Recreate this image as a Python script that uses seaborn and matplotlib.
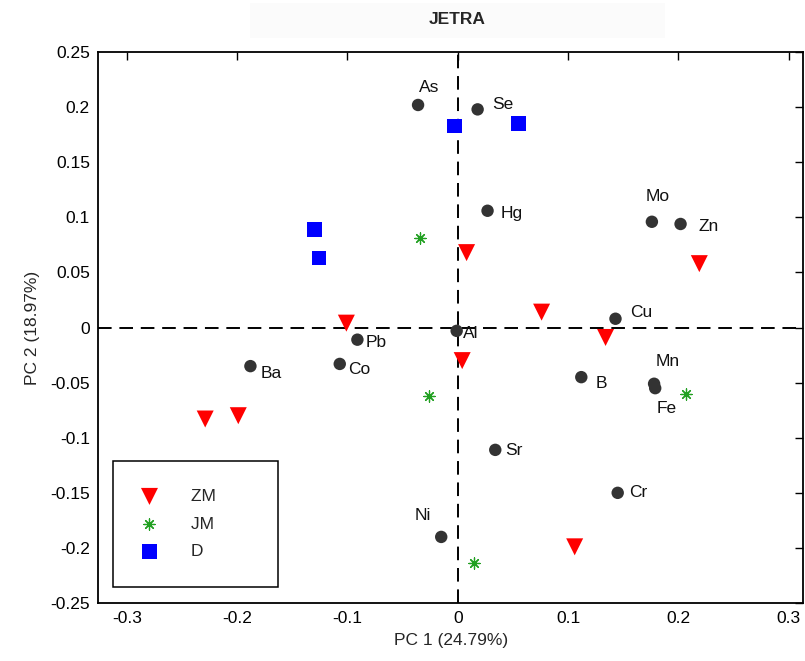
import matplotlib
matplotlib.use("Agg")
import matplotlib.pyplot as plt
import seaborn as sns
import pandas as pd
from matplotlib.patches import Rectangle

# ---- data ----
elements = ["As", "Se", "Hg", "Mo", "Zn", "Cu", "Al", "Pb", "Ba", "Co", "B", "Mn", "Fe", "Sr", "Cr", "Ni"]
elem_pc1 = [-0.036, 0.018, 0.027, 0.176, 0.202, 0.143, -0.001, -0.091, -0.188, -0.107, 0.112, 0.178, 0.179, 0.034, 0.145, -0.015]
elem_pc2 = [0.202, 0.198, 0.106, 0.096, 0.094, 0.008, -0.003, -0.011, -0.035, -0.033, -0.045, -0.051, -0.055, -0.111, -0.150, -0.190]
# label offsets in pixels (dx, dy)
label_dx = [1, 15, 13, -6, 18, 15, 6, 8, 10, 8, 14, 2, 1, 10, 11, -27]
label_dy = [17, 5, -3, 25, -3, 6, -3, -3, -7, -6, -6, 22, -20, -1, 0, 21]

zm_pc1 = [0.008, 0.219, 0.076, -0.101, 0.134, 0.004, -0.229, -0.199, 0.106]
zm_pc2 = [0.068, 0.058, 0.014, 0.004, -0.009, -0.030, -0.083, -0.080, -0.199]

jm_pc1 = [-0.034, -0.026, 0.207, 0.015]
jm_pc2 = [0.081, -0.062, -0.060, -0.214]

d_pc1 = [-0.003, 0.055, -0.130, -0.126]
d_pc2 = [0.183, 0.185, 0.089, 0.063]

xticks = [-0.3, -0.2, -0.1, 0.0, 0.1, 0.2, 0.3]
xticklabels = ["-0.3", "-0.2", "-0.1", "0", "0.1", "0.2", "0.3"]
yticks = [-0.25, -0.2, -0.15, -0.1, -0.05, 0.0, 0.05, 0.1, 0.15, 0.2, 0.25]
yticklabels = ["-0.25", "-0.2", "-0.15", "-0.1", "-0.05", "0", "0.05", "0.1", "0.15", "0.2", "0.25"]

title = "JETRA"
xlabel = "PC 1 (24.79%)"
ylabel = "PC 2 (18.97%)"

# ---- style ----
sns.set_theme(style="white")
plt.rcParams["font.family"] = ["Liberation Sans", "DejaVu Sans"]
FS = 12.5

fig = plt.figure(figsize=(8.05, 6.61), dpi=100)
ax = fig.add_axes([0.122, 0.0877, 0.8755, 0.8335])

# faint title background
fig.patches.append(Rectangle((250 / 805, 1 - 38 / 661), 415 / 805, 35 / 661,
                             transform=fig.transFigure, facecolor="#fbfbfb",
                             edgecolor="none", zorder=0))

ax.axhline(0, color="black", lw=1.4, ls=(0, (7, 4)), zorder=1)
ax.axvline(0, color="black", lw=1.4, ls=(0, (7, 4)), zorder=1)

el_df = pd.DataFrame({"pc1": elem_pc1, "pc2": elem_pc2, "name": elements})
sns.scatterplot(data=el_df, x="pc1", y="pc2", ax=ax, color="#333333", s=80,
                marker="o", edgecolor="none", zorder=3, legend=False)

zm_df = pd.DataFrame({"pc1": zm_pc1, "pc2": zm_pc2})
jm_df = pd.DataFrame({"pc1": jm_pc1, "pc2": jm_pc2})
d_df = pd.DataFrame({"pc1": d_pc1, "pc2": d_pc2})
sns.scatterplot(data=zm_df, x="pc1", y="pc2", ax=ax, color="#ff0000", s=150,
                marker="v", edgecolor="none", zorder=4, label="ZM")
sns.scatterplot(data=jm_df, x="pc1", y="pc2", ax=ax, color="#22a022", s=65,
                marker=(8, 2, 0), linewidth=0.9, edgecolor="#22a022", zorder=4, label="JM")
sns.scatterplot(data=d_df, x="pc1", y="pc2", ax=ax, color="#0000ff", s=110,
                marker="s", edgecolor="none", zorder=4, label="D")

for name, x, y, dx, dy in zip(elements, elem_pc1, elem_pc2, label_dx, label_dy):
    ax.annotate(name, (x, y), xytext=(dx, dy), textcoords="offset pixels",
                ha="left", va="center", fontsize=FS, color="#111111", zorder=5)

ax.set_xlim(-0.326, 0.313)
ax.set_ylim(-0.25, 0.25)
ax.set_xticks(xticks)
ax.set_xticklabels(xticklabels)
ax.set_yticks(yticks)
ax.set_yticklabels(yticklabels)
ax.tick_params(direction="in", length=6, width=1, top=True, right=True,
               labelsize=FS, colors="black", pad=6)
for sp in ax.spines.values():
    sp.set_color("black")
    sp.set_linewidth(1.3)

ax.set_xlabel(xlabel, fontsize=FS, labelpad=5)
ax.set_ylabel(ylabel, fontsize=FS, labelpad=7)
fig.text(457 / 805, 1 - 20 / 661, title, ha="center", va="center",
         fontsize=FS, fontweight="bold")

leg = ax.legend(loc="lower left", bbox_to_anchor=(0.021, 0.029), fontsize=FS,
                frameon=True, fancybox=False, edgecolor="black", framealpha=1,
                borderpad=1.6, labelspacing=0.72, handletextpad=1.9,
                handlelength=1.0, borderaxespad=0)
leg.get_frame().set_linewidth(1.1)
# widen legend frame to match reference
for t in leg.get_texts():
    t.set_text(t.get_text() + "       ")

fig.savefig("out.png", dpi=100)
